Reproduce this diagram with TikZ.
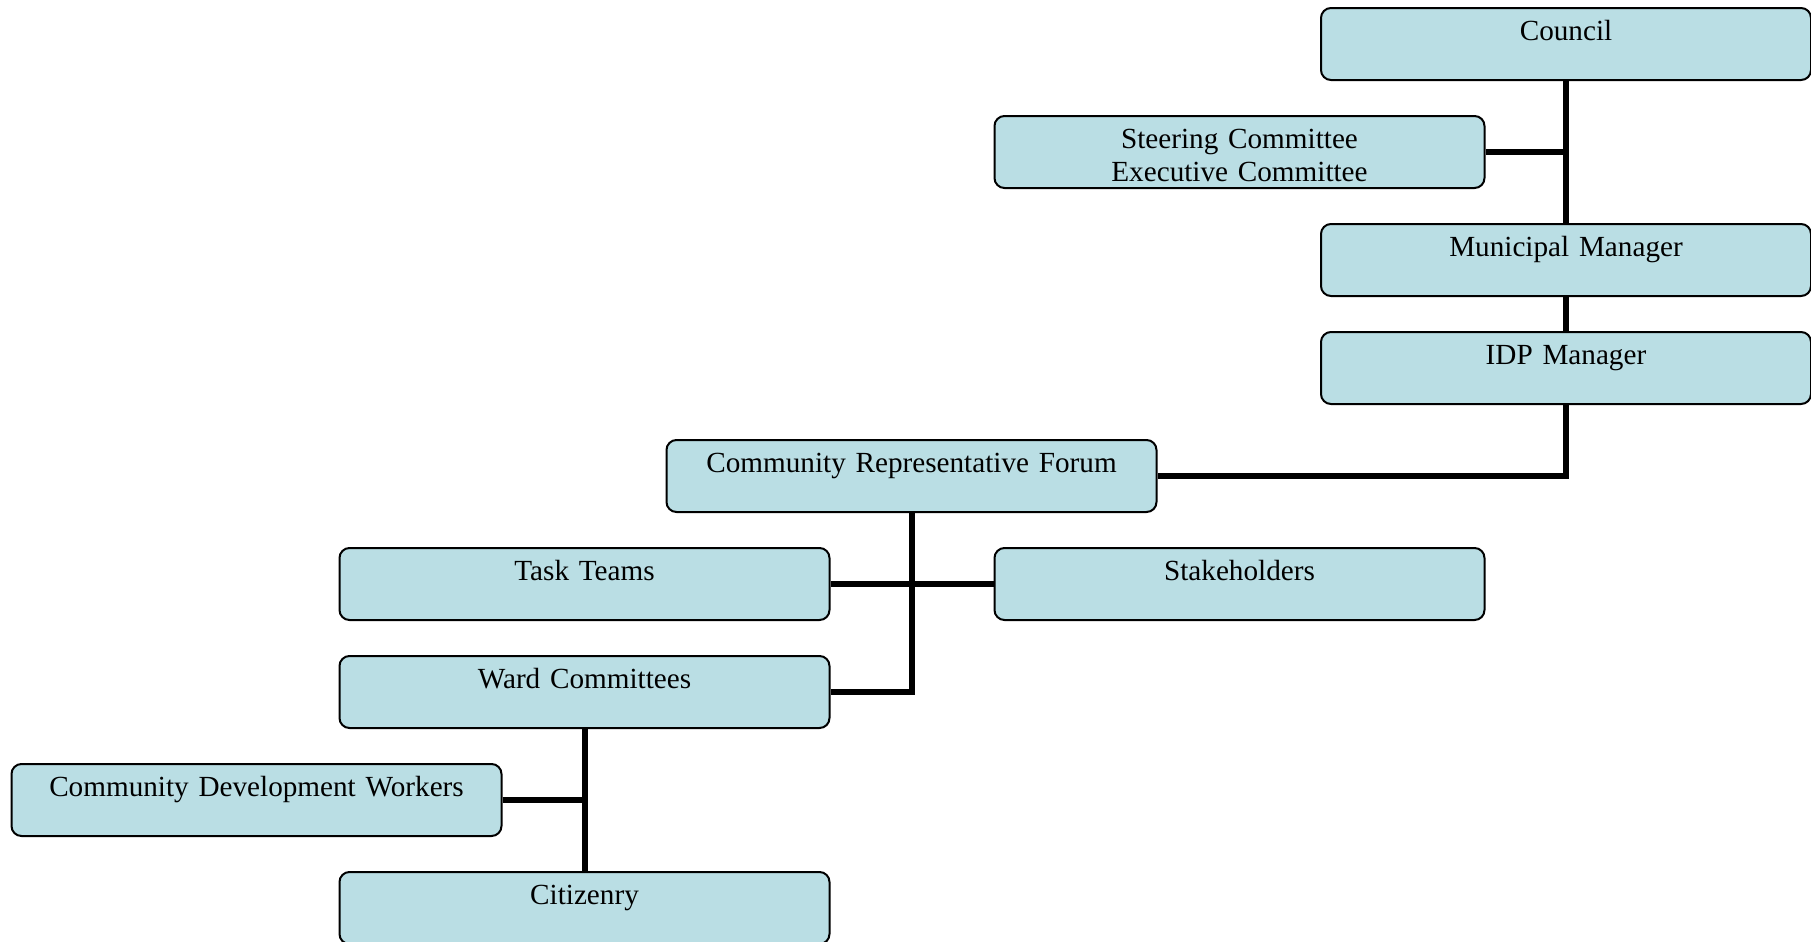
\documentclass[tikz,border=0pt]{standalone}
\usepackage{fontspec}
\setmainfont{Liberation Serif}
\definecolor{boxfill}{RGB}{186,222,228}
\newcommand\onetop{\rule{0pt}{13.5pt}}
\newcommand\twotop{\rule{0pt}{14pt}}
\newcommand\lastline{\rule[-1pt]{0pt}{1pt}}
\newcommand\emptyline{\rule{0pt}{0pt}}
\begin{document}
\begin{tikzpicture}[x=0.5pt,y=-0.5pt,
  orgbox/.style={draw=black,line width=1pt,fill=boxfill,rounded corners=5pt,
    minimum width=245pt,minimum height=36pt,inner sep=0pt,
    text width=240pt,align=center,font=\fontsize{14.6}{17}\selectfont},
  link/.style={line width=3pt,draw=black}]
\useasboundingbox (0,0) rectangle (1811,942);
\node[orgbox] (council) at (1566,44) {\onetop Council\\\emptyline};
\node[orgbox] (steer) at (1239.5,152) {\twotop Steering Committee\\Executive Committee\lastline};
\node[orgbox] (mm) at (1566,260) {\onetop Municipal Manager\\\emptyline};
\node[orgbox] (idp) at (1566,368) {\onetop IDP Manager\\\emptyline};
\node[orgbox] (crf) at (911.5,476) {\onetop Community Representative Forum\\\emptyline};
\node[orgbox] (task) at (584.5,584) {\onetop Task Teams\\\emptyline};
\node[orgbox] (stake) at (1239.5,584) {\onetop Stakeholders\\\emptyline};
\node[orgbox] (ward) at (584.5,692) {\onetop Ward Committees\\\emptyline};
\node[orgbox] (cdw) at (256.5,800) {\onetop Community Development Workers\\\emptyline};
\node[orgbox] (cit) at (584.5,908) {\onetop Citizenry\\\emptyline};
\draw[link] (council.south) -- (mm.north);
\draw[link] (steer.east) -- (council.south |- steer.east);
\draw[link] (mm.south) -- (idp.north);
\draw[link] (idp.south) |- (crf.east);
\draw[link] (crf.south) |- (ward.east);
\draw[link] (task.east) -- (stake.west);
\draw[link] (ward.south) -- (cit.north);
\draw[link] (cdw.east) -- (ward.south |- cdw.east);
\end{tikzpicture}
\end{document}
